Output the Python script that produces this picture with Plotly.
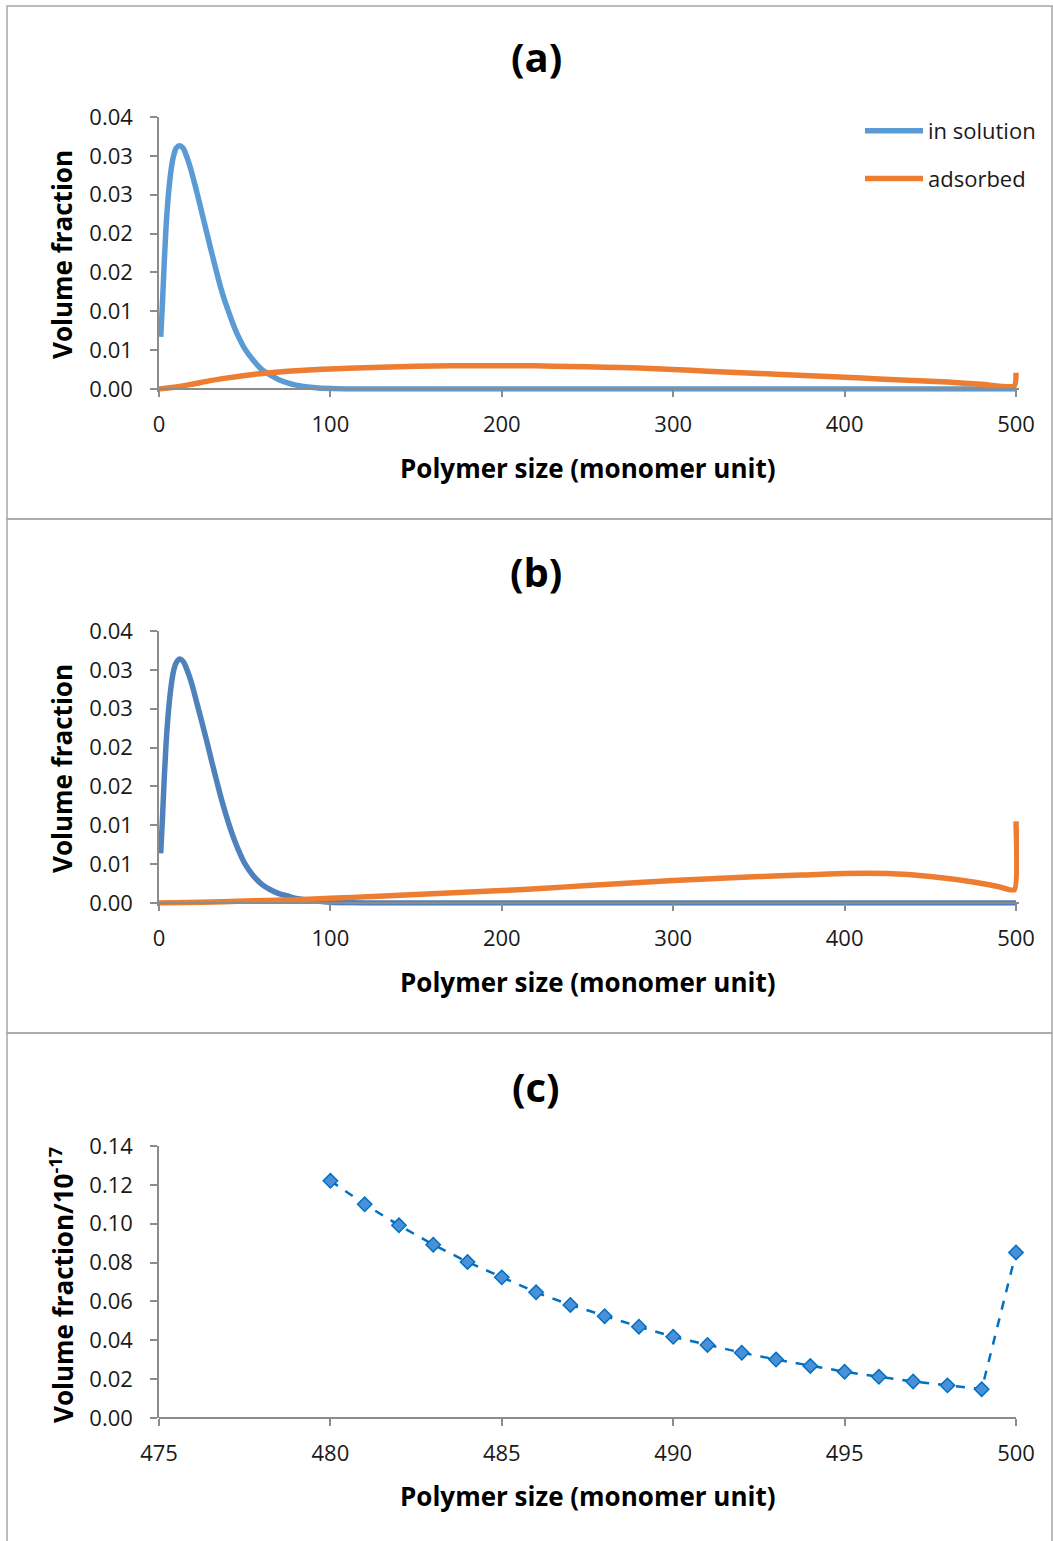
import plotly.graph_objects as go

W, H = 1053, 1541

def px(x):
    return x / W

def py(y):
    return 1 - y / H

# ---------------- data ----------------
# Panel (a)
a_sol_x = [1, 2, 3, 4, 5, 6, 7, 8, 9, 10, 12, 14, 16, 18, 20, 22, 25, 28, 31, 34, 37, 40, 43, 46,
           50, 55, 60, 65, 70, 75, 80, 90, 100, 110, 200, 300, 400, 500]
a_sol_y = [0.0067, 0.0110, 0.0160, 0.0204, 0.0237, 0.0262, 0.0281, 0.0295, 0.0304, 0.0310, 0.0313,
           0.0310, 0.0300, 0.0287, 0.0271, 0.0254, 0.0227, 0.0200, 0.0173, 0.0147, 0.0123, 0.0103,
           0.0085, 0.0069, 0.0052, 0.0037, 0.0025, 0.0018, 0.0012, 0.0008, 0.0005, 0.0002, 0.00005,
           0.0, 0.0, 0.0, 0.0, 0.0]
a_ads_x = [0, 10, 20, 30, 40, 50, 60, 70, 80, 90, 100, 120, 140, 160, 180, 200, 220, 240, 260, 280,
           300, 320, 340, 360, 380, 400, 420, 440, 460, 480, 499, 500]
a_ads_y = [0.0, 0.00025, 0.00065, 0.00108, 0.00143, 0.00174, 0.0020, 0.0022, 0.00236, 0.00248,
           0.00258, 0.00274, 0.00287, 0.00295, 0.0030, 0.0030, 0.00298, 0.0029, 0.0028, 0.0027,
           0.0025, 0.0023, 0.0021, 0.0019, 0.0017, 0.0015, 0.0013, 0.0011, 0.0009, 0.0006, 0.0004,
           0.0021]

# Panel (b)
b_sol_x = [1, 2, 3, 4, 5, 6, 7, 8, 9, 10, 12, 14, 16, 18, 20, 22, 25, 28, 31, 34, 37, 40, 43, 46,
           50, 55, 60, 65, 70, 75, 80, 86, 90, 100, 110, 120, 200, 300, 400, 500]
b_sol_y = [0.0064, 0.0108, 0.0158, 0.0200, 0.0233, 0.0258, 0.0278, 0.0293, 0.0303, 0.0309, 0.0314,
           0.0311, 0.0302, 0.0290, 0.0275, 0.0258, 0.0233, 0.0207, 0.0180, 0.0154, 0.0129, 0.0107,
           0.0087, 0.0070, 0.0051, 0.0035, 0.0024, 0.0017, 0.0012, 0.0009, 0.0006, 0.0004, 0.0003,
           0.0001, 0.00003, 0.0, 0.0, 0.0, 0.0, 0.0]
b_ads_x = [0, 25, 50, 75, 100, 125, 150, 175, 200, 225, 250, 275, 300, 325, 350, 375, 400, 425,
           450, 475, 490, 499, 500]
b_ads_y = [0.0, 0.0001, 0.00025, 0.0004, 0.0006, 0.00085, 0.0011, 0.00135, 0.0016, 0.0019, 0.00225,
           0.00257, 0.00288, 0.00316, 0.0034, 0.0036, 0.0038, 0.00378, 0.0034, 0.0027, 0.0021, 0.0017,
           0.0105]

# Panel (c)
c_x = list(range(480, 501))
c_y = [0.1221, 0.1100, 0.0992, 0.0892, 0.0803, 0.0724, 0.0647, 0.0582, 0.0524, 0.0470, 0.0418,
       0.0376, 0.0336, 0.0301, 0.0268, 0.0238, 0.0212, 0.0188, 0.0168, 0.0148, 0.0852]

ab_tickvals = [0, 0.005, 0.01, 0.015, 0.02, 0.025, 0.03, 0.035]
ab_ticktext = ["0.00", "0.01", "0.01", "0.02", "0.02", "0.03", "0.03", "0.04"]
c_tickvals = [0, 0.02, 0.04, 0.06, 0.08, 0.10, 0.12, 0.14]
c_ticktext = ["0.00", "0.02", "0.04", "0.06", "0.08", "0.10", "0.12", "0.14"]

BLUE_A = "#5B9BD5"
BLUE_B = "#4F81BD"
ORANGE = "#ED7D31"
C_LINE = "#0070C0"
AXIS_C = "#8C8C8C"
TXT = "#1a1a1a"
FONT = "Open Sans"
LW = 5.5

fig = go.Figure()

fig.add_trace(go.Scatter(x=a_sol_x, y=a_sol_y, mode="lines", name="in solution",
                         line=dict(color=BLUE_A, width=LW, shape="spline", smoothing=1),
                         xaxis="x", yaxis="y", legendgroup="g1"))
fig.add_trace(go.Scatter(x=a_ads_x, y=a_ads_y, mode="lines", name="adsorbed",
                         line=dict(color=ORANGE, width=LW, shape="spline", smoothing=0.6),
                         xaxis="x", yaxis="y", legendgroup="g2"))
fig.add_trace(go.Scatter(x=b_sol_x, y=b_sol_y, mode="lines", name="in solution", showlegend=False,
                         line=dict(color=BLUE_B, width=LW, shape="spline", smoothing=1),
                         xaxis="x2", yaxis="y2"))
fig.add_trace(go.Scatter(x=b_ads_x, y=b_ads_y, mode="lines", name="adsorbed", showlegend=False,
                         line=dict(color=ORANGE, width=LW, shape="spline", smoothing=0.5),
                         xaxis="x2", yaxis="y2"))
fig.add_trace(go.Scatter(x=c_x, y=c_y, mode="lines+markers", showlegend=False,
                         line=dict(color=C_LINE, width=2.5, dash="dash"),
                         marker=dict(symbol="diamond", size=11, color="#4A90D9",
                                     line=dict(color=C_LINE, width=1.5)),
                         cliponaxis=False, xaxis="x3", yaxis="y3"))

tickfont = dict(family=FONT, size=22, color=TXT)

def xax(domain, rng, position, dtick, tick0):
    return dict(domain=domain, range=rng, anchor="free", position=position, automargin=False,
                showline=True, linecolor=AXIS_C, linewidth=1.5, ticks="outside",
                ticklen=7, tickwidth=1.5, tickcolor=AXIS_C, showgrid=False, zeroline=False,
                tickmode="linear", dtick=dtick, tick0=tick0, tickfont=tickfont,
                ticklabelstandoff=9, fixedrange=True)

def yax(domain, rng, vals, text, anchor):
    return dict(domain=domain, range=rng, anchor=anchor, automargin=False,
                showline=True, linecolor=AXIS_C, linewidth=1.5, ticks="outside",
                ticklen=7, tickwidth=1.5, tickcolor=AXIS_C, showgrid=False, zeroline=False,
                tickmode="array", tickvals=vals, ticktext=text, tickfont=tickfont,
                ticklabelstandoff=13, fixedrange=True)

# pixel geometry
XL, XR = 159, 1016
ext_x = 3.0  # px extension so thick lines at x=500 are not clipped
unit_px = (XR - XL) / 500
x_ext = ext_x / unit_px
ab_unit = 272 / 0.035
y_ext = 2.8 / ab_unit

fig.update_layout(
    template="none",
    width=W, height=H, autosize=False,
    margin=dict(l=0, r=0, t=0, b=0, pad=0, autoexpand=False),
    paper_bgcolor="white", plot_bgcolor="rgba(0,0,0,0)",
    font=dict(family=FONT, color=TXT),
    xaxis=xax([px(XL), px(XR + ext_x)], [0, 500 + x_ext], py(389), 100, 0),
    yaxis=yax([py(389 + 2.8), py(117)], [-y_ext, 0.035], ab_tickvals, ab_ticktext, "x"),
    xaxis2=xax([px(XL), px(XR + ext_x)], [0, 500 + x_ext], py(903), 100, 0),
    yaxis2=yax([py(903 + 2.8), py(631)], [-y_ext, 0.035], ab_tickvals, ab_ticktext, "x2"),
    xaxis3=xax([px(XL), px(XR)], [475, 500], py(1418), 5, 475),
    yaxis3=yax([py(1418), py(1146)], [0, 0.14], c_tickvals, c_ticktext, "x3"),
    showlegend=True,
    legend=dict(x=px(860), y=py(110), xanchor="left", yanchor="top",
                font=dict(family=FONT, size=22, color=TXT),
                bgcolor="rgba(0,0,0,0)", borderwidth=0, tracegroupgap=16, itemwidth=58),
)

# panel frames
for y0, y1 in [(6, 519), (519, 1033), (1033, 1545)]:
    fig.add_shape(type="rect", xref="paper", yref="paper",
                  x0=px(7), x1=px(1052), y0=py(y1), y1=py(y0),
                  line=dict(color="#A6A6A6", width=1.5), fillcolor="rgba(0,0,0,0)", layer="below")

annos = []
for lab, yc in [("(a)", 57), ("(b)", 572), ("(c)", 1086)]:
    annos.append(dict(text=f"<b>{lab}</b>", x=px(536), y=py(yc), xref="paper", yref="paper",
                      showarrow=False, xanchor="center", yanchor="middle",
                      font=dict(family=FONT, size=40, color="black")))
for yc in [468, 982, 1496]:
    annos.append(dict(text="<b>Polymer size (monomer unit)</b>", x=px(587.5), y=py(yc),
                      xref="paper", yref="paper", showarrow=False, xanchor="center",
                      yanchor="middle", font=dict(family=FONT, size=26, color="black")))
for txt, yc in [("<b>Volume fraction</b>", 255), ("<b>Volume fraction</b>", 769),
                ("<b>Volume fraction/10<sup>-17</sup></b>", 1285)]:
    annos.append(dict(text=txt, x=px(62), y=py(yc), xref="paper", yref="paper",
                      showarrow=False, xanchor="center", yanchor="middle", textangle=-90,
                      font=dict(family=FONT, size=26, color="black")))
fig.update_layout(annotations=annos)

fig.write_html("out.html")
